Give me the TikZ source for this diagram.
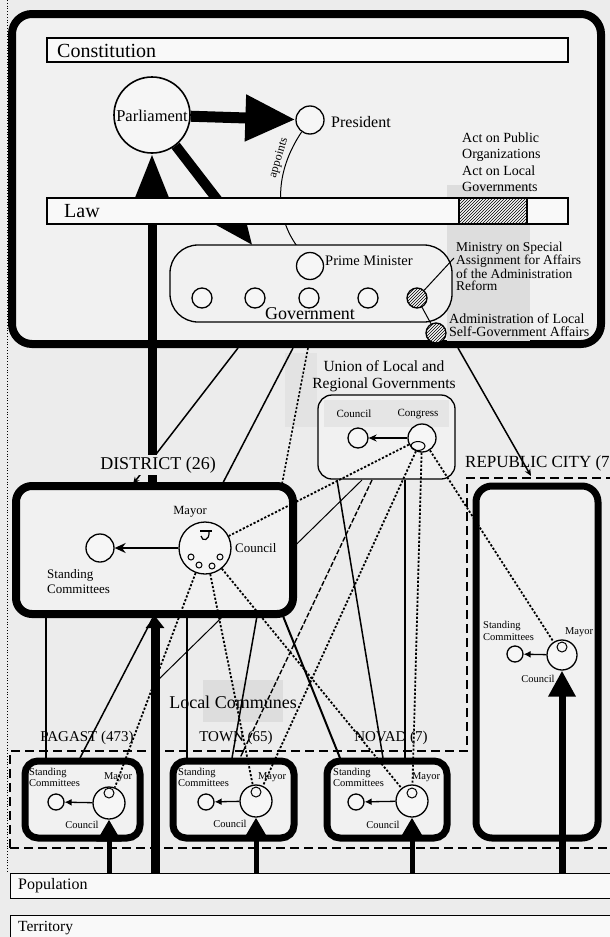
\documentclass[tikz,border=0pt]{standalone}
\usepackage{fontspec}
\setmainfont{Liberation Serif}
\usetikzlibrary{arrows.meta,patterns}
\newcommand\myfs[2]{\fontsize{#1}{#2}\selectfont}
\definecolor{bgc}{HTML}{ECECEC}
\definecolor{innerc}{HTML}{F1F1F1}
\definecolor{barfill}{HTML}{F9F9F9}
\definecolor{circfill}{HTML}{F6F6F6}
\definecolor{patch}{HTML}{DDDDDD}
\pgfdeclarelayer{bgl}
\pgfdeclarelayer{lines}
\pgfdeclarelayer{front}
\pgfsetlayers{bgl,lines,main,front}
\tikzset{
 thickbox/.style={draw, line width=7pt, rounded corners=13pt, fill=innerc, inner sep=0pt},
 bar/.style={draw, line width=1.4pt, fill=barfill, inner sep=0pt},
 circ/.style={circle, draw, line width=1.3pt, fill=circfill, inner sep=0pt},
 dots/.style={line width=1.8pt, dash pattern=on 2.2pt off 1.8pt},
 conn/.style={line width=1.5pt},
 thinconn/.style={line width=1pt},
 txt/.style={inner sep=0pt},
 regionline/.style={line width=1.3pt, dash pattern=on 9pt off 5pt},
}
\begin{document}
\begin{tikzpicture}[x=1pt,y=-1pt]
\useasboundingbox (0,0) rectangle (610,937);
\begin{pgfonlayer}{bgl}
\fill[bgc] (0,0) rectangle (610,937);
\draw[line width=0.8pt, dotted] (7,0) -- (7,872);
\node[draw, line width=8pt, rounded corners=20pt, minimum width=589pt, minimum height=330pt, fill=innerc, inner sep=0pt] (topbox) at (306.5,179) {};
\fill[patch] (447,185) rectangle (530,341);
\fill[patch!60!bgc] (285,353) rectangle (317,427);
\fill[patch] (203,680) rectangle (283,722);
\end{pgfonlayer}

% ---------- top part ----------
\node[bar, minimum width=521pt, minimum height=24pt] (constbar) at (307.5,50) {};
\node[txt, anchor=west, font=\myfs{20}{22}] (consttxt) at (57,50.5) {Constitution};
\node[bar, minimum width=521pt, minimum height=26pt] (lawbar) at (307.5,211) {};
\node[draw, line width=1.2pt, fill=barfill, postaction={pattern=north east lines}, minimum width=68pt, minimum height=26pt, inner sep=0pt] (lawhatch) at (493,211) {};
\node[txt, anchor=west, font=\myfs{20}{22}] (lawtxt) at (64,211.5) {Law};

\node[circ, line width=1.6pt, minimum size=76pt] (parl) at (152,115) {};
\node[txt, font=\myfs{16.5}{18}] (parltxt) at (152,116) {Parliament};
\node[circ, minimum size=28pt] (pres) at (310,120) {};
\node[txt, anchor=west, font=\myfs{16}{18}] (prestxt) at (331,122) {President};
\node[txt, rotate=73, font=\myfs{12}{13}] (apptxt) at (279,158) {appoints};

\node[draw, line width=1.3pt, rounded corners=28pt, minimum width=282pt, minimum height=77pt, fill=innerc, inner sep=0pt] (gov) at (311,283.5) {};
\node[circ, minimum size=27pt] (pm) at (310,266) {};
\node[txt, anchor=west, font=\myfs{14.5}{16}] (pmtxt) at (325,261) {Prime Minister};
\node[circ, minimum size=20pt] (g1) at (202,298) {};
\node[circ, minimum size=20pt] (g2) at (255,298) {};
\node[circ, minimum size=20pt] (g3) at (309,298) {};
\node[circ, minimum size=20pt] (g4) at (368,298) {};
\node[circ, minimum size=20pt, postaction={pattern=north east lines}] (g5) at (417,298) {};
\node[txt, font=\myfs{18}{20}] (govtxt) at (310,314) {Government};
\node[circ, minimum size=20pt, postaction={pattern=north east lines}] (adm) at (436,333) {};
\node[txt, anchor=west, align=left, font=\myfs{14}{16.5}] (acttxt) at (462,162) {Act on Public\\Organizations\\Act on Local\\Governments};
\node[txt, anchor=west, align=left, font=\myfs{13.5}{12}] (mintxt) at (456,266) {Ministry on Special\\Assignment for Affairs\\of the Administration\\Reform};
\node[txt, anchor=west, align=left, font=\myfs{14}{13.5}] (admtxt) at (449,325) {Administration of Local\\Self-Government Affairs};
\coordinate (minpt) at (454,258);

% ---------- union ----------
\node[txt, align=center, font=\myfs{15.5}{17}] (untxt) at (384,376) {Union of Local and\\Regional Governments};
\node[draw, line width=1.3pt, rounded corners=14pt, minimum width=137pt, minimum height=84pt, fill=innerc, inner sep=0pt] (union) at (386.5,437) {};
\fill[patch!60!innerc] (324,400) rectangle (449,427);
\node[txt, font=\myfs{11}{12}] (ucoutxt) at (354,414) {Council};
\node[txt, font=\myfs{11}{12}] (ucongtxt) at (418,414) {Congress};
\node[circ, minimum size=20pt] (ucou) at (358,438) {};
\node[circ, minimum size=28pt] (ucong) at (422,438) {};
\draw[line width=1pt] (418,446) ellipse [x radius=7pt, y radius=4.5pt];

% ---------- district ----------
\node[thickbox, line width=8pt, rounded corners=16pt, minimum width=277pt, minimum height=128pt] (district) at (154.5,550) {};
\node[txt, fill=bgc, inner sep=2pt, font=\myfs{18}{20}] (disttxt) at (158,465) {DISTRICT (26)};
\node[circ, minimum size=52pt] (dcou) at (205,548) {};
\node[circ, minimum size=28pt] (dstd) at (100,548) {};
\node[circ, line width=1pt, minimum size=6pt] (dm1) at (191,557) {};
\node[circ, line width=1pt, minimum size=6pt] (dm2) at (199,565) {};
\node[circ, line width=1pt, minimum size=6pt] (dm3) at (212,566) {};
\node[circ, line width=1pt, minimum size=6pt] (dm4) at (220,557) {};
\draw[line width=1.2pt] (200,531) -- (212,531);
\draw[line width=1.2pt] (209,531) .. controls (210,541) and (202,542) .. (201,536);
\node[txt, font=\myfs{12.5}{14}] (dmaytxt) at (190,512) {Mayor};
\node[txt, anchor=west, font=\myfs{13}{14}] (dcoutxt) at (235,548) {Council};
\node[txt, anchor=west, align=left, font=\myfs{13}{15}] (dstdtxt) at (47,582) {Standing\\Committees};

% ---------- republic city ----------
\node[txt, anchor=west, font=\myfs{17}{19}] (reptxt) at (465,463) {REPUBLIC CITY (7)};
\node[thickbox, rounded corners=16pt, minimum width=122pt, minimum height=352pt] (republic) at (537,662) {};
\node[circ, minimum size=30pt] (rcou) at (562,655) {};
\node[circ, line width=1pt, minimum size=10pt] (rmay) at (562,647) {};
\node[circ, minimum size=16pt] (rstd) at (515,654) {};
\node[txt, anchor=west, align=left, font=\myfs{10.5}{11.5}] (rstdtxt) at (483,631) {Standing\\Committees};
\node[txt, font=\myfs{10.5}{12}] (rmaytxt) at (579,632) {Mayor};
\node[txt, font=\myfs{10.5}{12}] (rcoutxt) at (538,679) {Council};

% ---------- local communes ----------
\node[txt, font=\myfs{18}{20}] (loctxt) at (233,702) {Local Communes};
\node[txt, font=\myfs{15}{17}] (pagtxt) at (87,738) {PAGAST (473)};
\node[txt, font=\myfs{15}{17}] (towntxt) at (236,738) {TOWN (65)};
\node[txt, font=\myfs{15}{17}] (novtxt) at (391,738) {NOVAD (7)};
\node[thickbox, minimum width=115pt, minimum height=77pt] (pagast) at (82.5,799.5) {};
\node[thickbox, minimum width=121pt, minimum height=77pt] (town) at (233.5,799.5) {};
\node[thickbox, minimum width=120pt, minimum height=77pt] (novad) at (387,799.5) {};

\node[circ, minimum size=32pt] (pcou) at (109,803) {};
\node[circ, line width=1pt, minimum size=10pt] (pmay) at (109,793) {};
\node[circ, minimum size=16pt] (pstd) at (56,802) {};
\node[txt, anchor=west, align=left, font=\myfs{10.5}{11}] (pstdtxt) at (29,777.5) {Standing\\Committees};
\node[txt, font=\myfs{10.5}{12}] (pmaytxt) at (118,777) {Mayor};
\node[txt, font=\myfs{10.5}{12}] (pcoutxt) at (82,825) {Council};

\node[circ, minimum size=32pt] (tcou) at (256,801) {};
\node[circ, line width=1pt, minimum size=10pt] (tmay) at (256,792) {};
\node[circ, minimum size=16pt] (tstd) at (206,802) {};
\node[txt, anchor=west, align=left, font=\myfs{10.5}{11}] (tstdtxt) at (178,777.5) {Standing\\Committees};
\node[txt, font=\myfs{10.5}{12}] (tmaytxt) at (272,777) {Mayor};
\node[txt, font=\myfs{10.5}{12}] (tcoutxt) at (230,824) {Council};

\node[circ, minimum size=32pt] (ncou) at (412,801) {};
\node[circ, line width=1pt, minimum size=10pt] (nmay) at (412,793) {};
\node[circ, minimum size=16pt] (nstd) at (356,802) {};
\node[txt, anchor=west, align=left, font=\myfs{10.5}{11}] (nstdtxt) at (333,777.5) {Standing\\Committees};
\node[txt, font=\myfs{10.5}{12}] (nmaytxt) at (426,777) {Mayor};
\node[txt, font=\myfs{10.5}{12}] (ncoutxt) at (383,825) {Council};

% ---------- population / territory ----------
\node[bar, anchor=north west, minimum width=640pt, minimum height=25pt] (popbar) at (10,873) {};
\node[txt, anchor=west, font=\myfs{16}{18}] (poptxt) at (18,886) {Population};
\node[bar, anchor=north west, minimum width=640pt, minimum height=40pt] (terrbar) at (10,915) {};
\node[txt, anchor=west, font=\myfs{15.5}{17}] (terrtxt) at (18,928) {Territory};

% ---------- connectors behind boxes ----------
\begin{pgfonlayer}{lines}
\draw[regionline] (10,848) -- (615,848);
\draw[regionline] (10,848) -- (10,751) -- (467,751) -- (467,478) -- (615,478);
\coordinate (dtop) at (152,484);
\draw[line width=9pt, -{Triangle[length=45pt,width=32pt]}] (dtop) -- (parl.south);
\coordinate (govtip) at (253,246);
\draw[line width=10pt, -{Triangle[length=40pt,width=30pt]}] (parl) -- (govtip);
\draw[line width=11pt, -{Triangle[length=50pt,width=44pt]}] (parl) -- (pres);
\draw[line width=1pt, -{Stealth[length=8pt,width=7pt]}] (pres.235) .. controls (276,170) and (272,215) .. (pm.120);
\coordinate (topA) at (238,348); \coordinate (distA) at (133,484);
\draw[conn, -{Stealth[length=7pt,width=6pt]}] (topA) -- (distA);
\coordinate (topB) at (293,348); \coordinate (pagB) at (80,758);
\draw[conn] (topB) -- (pagB);
\coordinate (topC) at (308,348); \coordinate (distC) at (282,484);
\draw[dots, line width=1.6pt] (topC) -- (distC);
\coordinate (distC2) at (257,616); \coordinate (townC) at (232,758);
\draw[conn] (distC2) -- (townC);
\coordinate (topE) at (458,348); \coordinate (repE) at (531,476);
\draw[conn, -{Stealth[length=7pt,width=6pt]}] (topE) -- (repE);
\coordinate (unL1) at (337,480); \coordinate (novL1) at (383,758);
\draw[conn] (unL1) -- (novL1);
\coordinate (unL2) at (362,480); \coordinate (thkL2) at (158,680);
\draw[thinconn] (unL2) -- (thkL2);
\coordinate (unL3) at (372,480); \coordinate (townL3) at (240,758);
\draw[line width=1.4pt, dash pattern=on 5pt off 2pt] (unL3) -- (townL3);
\coordinate (unL5) at (405,480); \coordinate (novL5) at (405,758);
\draw[conn] (unL5) -- (novL5);
\coordinate (distP) at (46,616); \coordinate (pagP) at (46,758);
\draw[conn] (distP) -- (pagP);
\coordinate (distT) at (187,616); \coordinate (townT) at (187,758);
\draw[conn] (distT) -- (townT);
\coordinate (distN) at (283,616); \coordinate (novN) at (340,758);
\draw[line width=2pt] (distN) -- (novN);
\end{pgfonlayer}

% ---------- connectors in front ----------
\begin{pgfonlayer}{front}
\coordinate (popD) at (155,873); \coordinate (dbot) at (155,616);
\draw[line width=9pt, -{Triangle[length=12pt,width=18pt]}] (popD) -- (dbot);
\coordinate (popP) at (109,873);
\draw[line width=5pt, -{Triangle[length=22pt,width=24pt]}] (popP) -- (pcou);
\coordinate (popT) at (256,873);
\draw[line width=5pt, -{Triangle[length=22pt,width=24pt]}] (popT) -- (tcou);
\coordinate (popN) at (412,873);
\draw[line width=5pt, -{Triangle[length=22pt,width=24pt]}] (popN) -- (ncou);
\coordinate (popR) at (562,873);
\draw[line width=7pt, -{Triangle[length=26pt,width=26pt]}] (popR) -- (rcou);

\draw[line width=1.5pt, -{Stealth[length=11pt,width=10pt]}] (dcou) -- (dstd);
\draw[line width=1.3pt, -{Latex[length=7pt,width=7pt]}] (pcou) -- (pstd);
\draw[line width=1.3pt, -{Latex[length=7pt,width=7pt]}] (tcou) -- (tstd);
\draw[line width=1.3pt, -{Latex[length=7pt,width=7pt]}] (ncou) -- (nstd);
\draw[line width=1.3pt, -{Latex[length=7pt,width=7pt]}] (rcou) -- (rstd);
\draw[line width=1.2pt, -{Stealth[length=8pt,width=7pt]}] (ucong) -- (ucou);
\draw[line width=1pt] (g5) -- (minpt);
\draw[line width=1pt] (g5) -- (adm);

\draw[dots] (ucong) -- (dcou);
\draw[dots] (ucong) -- (tcou);
\draw[dots] (ucong) -- (ncou);
\draw[dots] (ucong) -- (rcou);
\draw[dots] (dcou) -- (pcou);
\draw[dots] (dcou) -- (tcou);
\draw[dots] (dcou) -- (ncou);
\end{pgfonlayer}
\end{tikzpicture}
\end{document}
